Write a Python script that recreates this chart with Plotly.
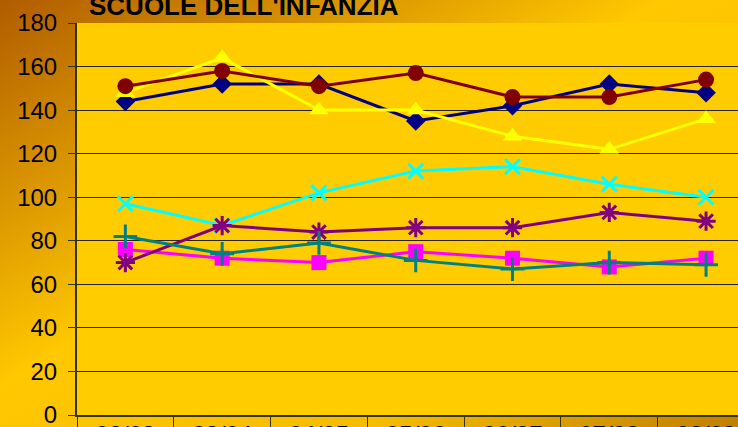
import base64
import plotly.graph_objects as go

categories = ["02/03", "03/04", "04/05", "05/06", "06/07", "07/08", "08/09"]

s1_navy = [144, 152, 152, 135, 142, 152, 148]
s2_magenta = [76, 72, 70, 75, 72, 68, 72]
s3_yellow = [148, 164, 140, 140, 128, 122, 136]
s4_cyan = [97, 87, 102, 112, 114, 106, 100]
s5_purple = [70, 87, 84, 86, 86, 93, 89]
s6_darkred = [151, 158, 151, 157, 146, 146, 154]
s7_teal = [82, 74, 79, 71, 67, 70, 69]

y_ticks = [0, 20, 40, 60, 80, 100, 120, 140, 160, 180]

W, H = 738, 427
L, R, T, B = 77, 0, 23, 12
pw, ph = W - L - R, H - T - B

series = [
    ("Serie 1", s1_navy, "#000080", "diamond", 15, None),
    ("Serie 2", s2_magenta, "#FF00FF", "square", 15, None),
    ("Serie 3", s3_yellow, "#FFFF00", "triangle-up", 17, None),
    ("Serie 4", s4_cyan, "#00FFFF", "x-thin", 15, 3),
    ("Serie 5", s5_purple, "#800080", "asterisk", 16, 3),
    ("Serie 6", s6_darkred, "#800000", "circle", 16, None),
    ("Serie 7", s7_teal, "#008080", "cross-thin", 17, 3),
]

fig = go.Figure()
for name, vals, col, sym, sz, lw in series:
    marker = dict(symbol=sym, size=sz, color=col)
    if lw:
        marker["line"] = dict(color=col, width=lw)
    else:
        marker["line"] = dict(width=0)
    fig.add_trace(go.Scatter(x=categories, y=vals, name=name, mode="lines+markers",
                             line=dict(color=col, width=3), marker=marker))

svg = f'''<svg xmlns="http://www.w3.org/2000/svg" width="{W}" height="{H}" viewBox="0 0 {W} {H}" preserveAspectRatio="none">
<defs><linearGradient id="g" x1="0" y1="0" x2="1" y2="1">
<stop offset="0" stop-color="#B05C00"/>
<stop offset="0.45" stop-color="#FFC800"/>
<stop offset="0.75" stop-color="#F5BC00"/>
<stop offset="1" stop-color="#C07E00"/>
</linearGradient></defs>
<rect x="0" y="0" width="{W}" height="{H}" fill="url(#g)"/></svg>'''
src = "data:image/svg+xml;base64," + base64.b64encode(svg.encode()).decode()

fig.add_layout_image(dict(source=src, xref="paper", yref="paper",
                          x=-L / pw, y=1 + T / ph, sizex=W / pw, sizey=H / ph,
                          xanchor="left", yanchor="top", sizing="stretch", layer="below"))

fig.add_shape(type="rect", xref="x domain", yref="y domain", x0=0, x1=1, y0=0, y1=1,
              fillcolor="#FFCC00", line=dict(width=0), layer="below")

fig.add_annotation(text="<b>SCUOLE DELL'INFANZIA</b>", xref="paper", yref="paper",
                   x=(87 - L) / pw, xanchor="left", y=1 + (T - 6) / ph, yanchor="middle",
                   showarrow=False, font=dict(family="Liberation Sans, Arial", size=26, color="#000000"))

fig.update_layout(
    width=W, height=H,
    margin=dict(l=L, r=R, t=T, b=B, autoexpand=False),
    paper_bgcolor="#F0B800",
    plot_bgcolor="rgba(0,0,0,0)",
    showlegend=False,
    font=dict(family="Liberation Sans, Arial", size=24, color="#000000"),
)
fig.update_xaxes(type="category", range=[-0.5, 6.33], tickson="boundaries",
                 ticks="outside", ticklen=20, tickwidth=1, tickcolor="#333300",
                 showline=True, linecolor="#333300", linewidth=2, showgrid=False,
                 ticklabelstandoff=-3, ticklabeloverflow="allow",
                 tickfont=dict(size=24), automargin=False)
fig.update_yaxes(range=[0, 180], tickvals=y_ticks, ticks="outside", ticklen=7,
                 tickcolor="#333300", showline=True, linecolor="#333300", linewidth=2,
                 showgrid=True, gridcolor="#2A2200", gridwidth=1, zeroline=False,
                 ticklabeloverflow="allow",
                 tickfont=dict(size=24), automargin=False, ticklabelstandoff=6)

fig.write_html("out.html", config={"displayModeBar": False},
               post_script="document.body.style.margin='0';document.body.style.overflow='hidden';")
